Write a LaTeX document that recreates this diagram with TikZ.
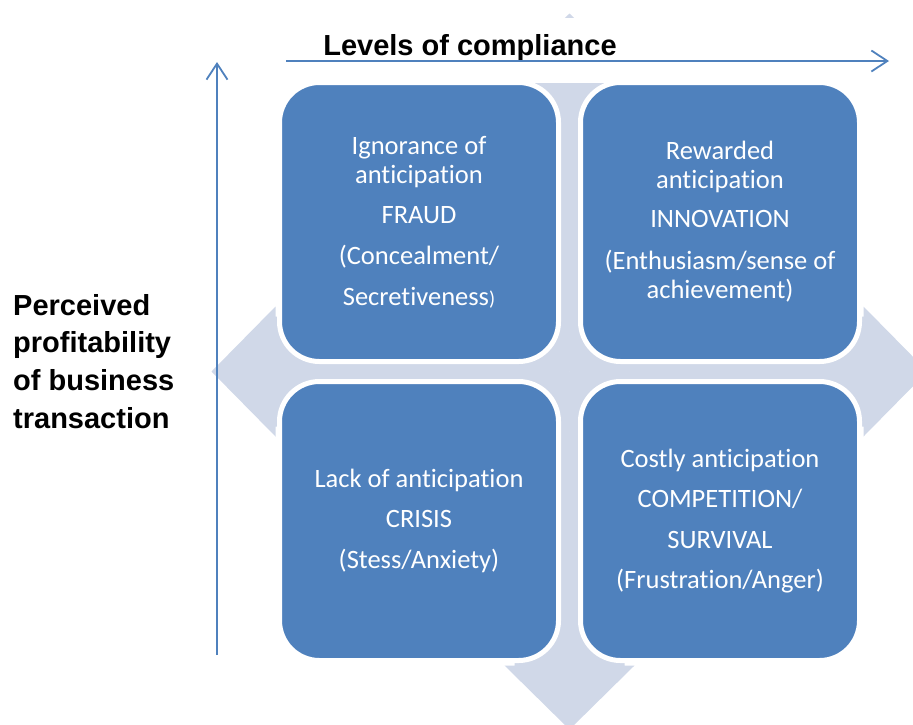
\documentclass[tikz,border=0pt]{standalone}
\usepackage{fontspec}
\newfontfamily\boxfont[Ligatures=NoCommon]{Carlito}
\newfontfamily\axisfont{Liberation Sans}
\usetikzlibrary{arrows.meta,calc}
\definecolor{boxblue}{HTML}{4F81BD}
\definecolor{crossgray}{HTML}{D0D8E8}
\tikzset{
    quad/.style={
    rectangle,rounded corners=40pt,fill=boxblue,draw=white,line width=5pt,
    minimum width=279pt,minimum height=279pt,text=white,align=center,
    font=\boxfont\fontsize{26.5}{29}\selectfont
    },
    axis/.style={
    draw=boxblue,line width=1.8pt,-{Straight Barb[length=16pt,width=21pt]}
    },
    axislabel/.style={
    font=\axisfont\bfseries\fontsize{29}{37.7}\selectfont,text=black
    },
}
\begin{document}
\begin{tikzpicture}[x=1pt,y=-1pt]
  \useasboundingbox (0,0) rectangle (913,724);
  \clip (0,0) rectangle (913,724);
  % four-way arrow behind the boxes
  \coordinate (mid) at (569.5,371.5);
  \foreach \r in {0,90,180,270}
    \fill[crossgray,shift={(mid)},rotate=\r] (-55,0) -- (-55,-294) -- (-65,-294) -- (0,-358) -- (65,-294) -- (55,-294) -- (55,0) -- cycle;
  \fill[white] (295,18) rectangle (650,83);
  \node[axislabel,anchor=base] (title) at (470,55) {Levels of compliance};

  \node[quad] (fraud) at (419,222) {Ignorance of\\anticipation\\[11pt]FRAUD\\[12pt](Concealment/\\[12pt]Secretiveness{\fontsize{20}{29}\selectfont)}};
  \node[quad] (innov) at (720,222) {Rewarded\\anticipation\\[10pt]INNOVATION\\[13pt](Enthusiasm/sense of\\achievement)};
  \node[quad] (crisis) at (419,521) {Lack of anticipation\\[11pt]CRISIS\\[12pt](Stess/Anxiety)};
  \node[quad] (compet) at (720,521) {Costly anticipation\\[11pt]COMPETITION/\\[12pt]SURVIVAL\\[11pt](Frustration/Anger)};

  % axes
  \coordinate (vbot) at (217,655);
  \coordinate (vtop) at (217,62);
  \coordinate (hleft) at (286,61);
  \coordinate (hright) at (889,61);
  \draw[axis] (vbot) -- (vtop);
  \draw[axis] (hleft) -- (hright);

  \node[axislabel,anchor=north west,align=left,inner sep=0pt] (profit) at (13,294) {Perceived\\profitability\\of business\\transaction};
\end{tikzpicture}
\end{document}
